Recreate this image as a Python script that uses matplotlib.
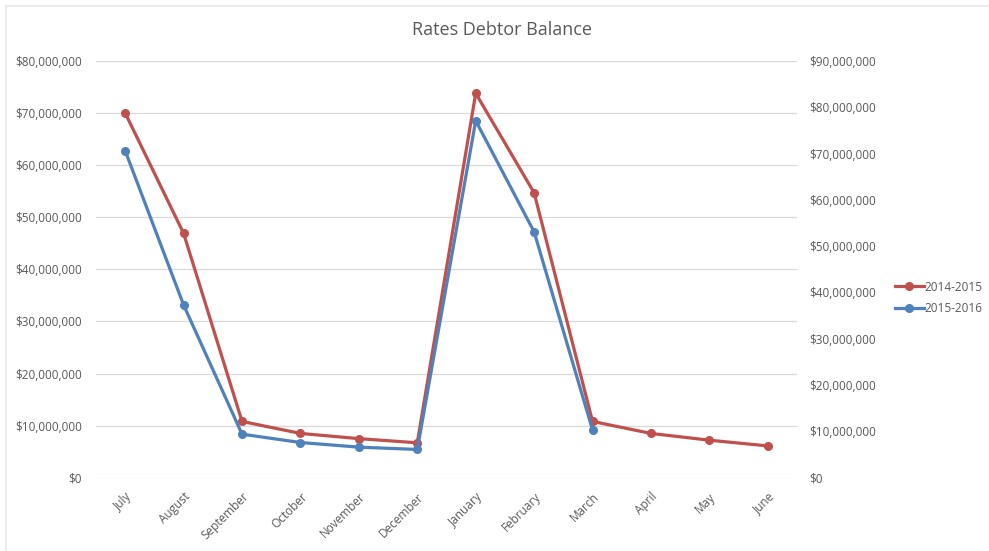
import matplotlib
matplotlib.use("Agg")
import matplotlib.pyplot as plt
from matplotlib.ticker import FuncFormatter
from matplotlib.lines import Line2D

months = ["July", "August", "September", "October", "November", "December",
          "January", "February", "March", "April", "May", "June"]
fy2014_15 = [70.0e6, 46.9e6, 10.8e6, 8.5e6, 7.5e6, 6.7e6,
             73.8e6, 54.7e6, 10.8e6, 8.5e6, 7.2e6, 6.1e6]
fy2015_16 = [70.6e6, 37.3e6, 9.4e6, 7.6e6, 6.6e6, 6.1e6,
             77.1e6, 53.1e6, 10.3e6]
left_ticks = [0, 10e6, 20e6, 30e6, 40e6, 50e6, 60e6, 70e6, 80e6]
right_ticks = [0, 10e6, 20e6, 30e6, 40e6, 50e6, 60e6, 70e6, 80e6, 90e6]

plt.rcParams['font.family'] = ['Open Sans', 'DejaVu Sans']
gray = '#595959'
red = '#C0504D'
blue = '#4F81BD'

W, H = 989, 551
fig = plt.figure(figsize=(W / 100, H / 100), dpi=100)
# chart-area border (top and left only visible)
fig.lines.append(Line2D([6 / W, 1], [1 - 6 / H, 1 - 6 / H], transform=fig.transFigure,
                        color='#EBEBEB', lw=1.5))
fig.lines.append(Line2D([6 / W, 6 / W], [0, 1 - 6 / H], transform=fig.transFigure,
                        color='#EBEBEB', lw=1.5))

ax = fig.add_axes([96 / W, 1 - 477.7 / H, (797 - 96) / W, (477.7 - 61) / H])
ax2 = ax.twinx()

x = list(range(len(months)))
ax.plot(x, fy2014_15, color=red, lw=2.3, marker='o', ms=5.5, label='2014-2015', zorder=3)
ax2.plot(x[:len(fy2015_16)], fy2015_16, color=blue, lw=2.3, marker='o', ms=5.5,
         label='2015-2016', zorder=3)

ax.set_ylim(0, 80e6)
ax2.set_ylim(0, 90e6)
ax.set_yticks(left_ticks)
ax2.set_yticks(right_ticks)
ax.set_xlim(-0.5, len(months) - 0.5)
fmt = FuncFormatter(lambda v, p: "${:,.0f}".format(v))
ax.yaxis.set_major_formatter(fmt)
ax2.yaxis.set_major_formatter(fmt)

ax.grid(axis='y', color='#D9D9D9', lw=0.9)
ax.set_axisbelow(True)
for a in (ax, ax2):
    for s in a.spines.values():
        s.set_visible(False)
    a.tick_params(length=0, labelsize=8.5, labelcolor=gray)
ax.tick_params(axis='y', pad=10)
ax2.tick_params(axis='y', pad=9)

ax.set_xticks(x)
ax.set_xticklabels(months, rotation=45, ha='right', va='top', rotation_mode='anchor')
ax.tick_params(axis='x', pad=9)

fig.text(502 / W, 1 - 30 / H, "Rates Debtor Balance", ha='center', va='center',
         fontsize=13, color=gray)

h1, l1 = ax.get_legend_handles_labels()
h2, l2 = ax2.get_legend_handles_labels()
leg = fig.legend(h1 + h2, l1 + l2, loc='center left',
                 bbox_to_anchor=(890 / W, 1 - 298 / H), frameon=False,
                 fontsize=8.5, handlelength=2.5, handletextpad=0.0,
                 labelspacing=0.75, borderaxespad=0)
for t in leg.get_texts():
    t.set_color(gray)

fig.savefig("out.png", dpi=100)
